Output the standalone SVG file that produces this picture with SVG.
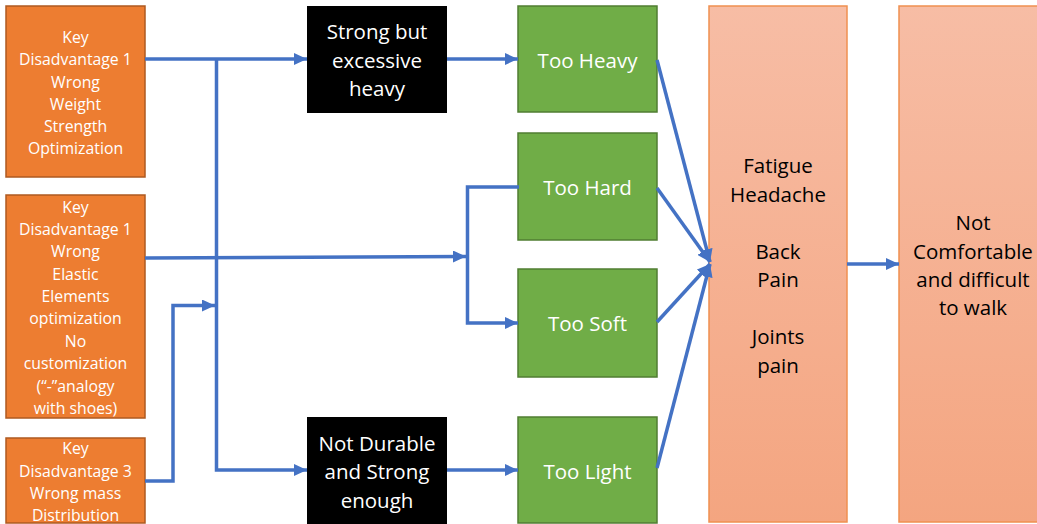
<svg xmlns="http://www.w3.org/2000/svg" width="1037" height="524" viewBox="0 0 1037 524">
<defs>
<linearGradient id="salmon" x1="0" y1="0" x2="0" y2="1">
<stop offset="0" stop-color="#F7BDA5"/>
<stop offset="1" stop-color="#F4A580"/>
</linearGradient>
<marker id="arr" markerUnits="userSpaceOnUse" markerWidth="14" markerHeight="12" refX="13" refY="6" orient="auto">
<path d="M0,0 L13,6 L0,12 z" fill="#4472C4"/>
</marker>
<style>
.orange{fill:#ED7D31;stroke:#AE5A21;stroke-width:1.5}
.black{fill:#000}
.green{fill:#70AD47;stroke:#507E32;stroke-width:1.5}
.salmon{fill:url(#salmon);stroke:#F09050;stroke-width:1.5}
.t{font-family:"Open Sans","Liberation Sans",sans-serif;text-anchor:middle;dominant-baseline:central}
.ts{font-size:15.8px;fill:#fff}
.tb{font-size:20.5px;fill:#fff}
.tk{font-size:20.5px;fill:#000}
.c{fill:none;stroke:#4472C4;stroke-width:3.5}
</style>
</defs>
<g id="kd1">
<rect class="orange" x="6" y="6" width="139" height="171"/>
<text class="t ts" x="75.5"><tspan x="75.5" y="37">Key</tspan><tspan x="75.5" y="59">Disadvantage 1</tspan><tspan x="75.5" y="81.5">Wrong</tspan><tspan x="75.5" y="103.5">Weight</tspan><tspan x="75.5" y="126">Strength</tspan><tspan x="75.5" y="148">Optimization</tspan></text>
</g>
<g id="kd2">
<rect class="orange" x="6" y="195" width="139" height="223"/>
<text class="t ts" x="75.5"><tspan x="75.5" y="207">Key</tspan><tspan x="75.5" y="228.5">Disadvantage 1</tspan><tspan x="75.5" y="251">Wrong</tspan><tspan x="75.5" y="273.5">Elastic</tspan><tspan x="75.5" y="296">Elements</tspan><tspan x="75.5" y="318">optimization</tspan><tspan x="75.5" y="341">No</tspan><tspan x="75.5" y="363">customization</tspan><tspan x="75.5" y="386">(“-”analogy</tspan><tspan x="75.5" y="408">with shoes)</tspan></text>
</g>
<g id="kd3">
<rect class="orange" x="6" y="438" width="139" height="85"/>
<text class="t ts" x="75.5"><tspan x="75.5" y="448">Key</tspan><tspan x="75.5" y="470.5">Disadvantage 3</tspan><tspan x="75.5" y="493">Wrong mass</tspan><tspan x="75.5" y="515">Distribution</tspan></text>
</g>
<g id="strong">
<rect class="black" x="307" y="6" width="140" height="107"/>
<text class="t tb"><tspan x="377" y="31">Strong but</tspan><tspan x="377" y="60">excessive</tspan><tspan x="377" y="88">heavy</tspan></text>
</g>
<g id="notdurable">
<rect class="black" x="307" y="417" width="140" height="107"/>
<text class="t tb"><tspan x="377" y="443">Not Durable</tspan><tspan x="377" y="471">and Strong</tspan><tspan x="377" y="500">enough</tspan></text>
</g>
<g id="heavy">
<rect class="green" x="518" y="6" width="139" height="106"/>
<text class="t tb" x="587.5" y="60">Too Heavy</text>
</g>
<g id="hard">
<rect class="green" x="518" y="133" width="139" height="107"/>
<text class="t tb" x="587.5" y="187">Too Hard</text>
</g>
<g id="soft">
<rect class="green" x="518" y="269" width="139" height="108"/>
<text class="t tb" x="587.5" y="323">Too Soft</text>
</g>
<g id="light">
<rect class="green" x="518" y="417" width="139" height="106"/>
<text class="t tb" x="587.5" y="471">Too Light</text>
</g>
<g id="symptoms">
<rect class="salmon" x="709" y="6" width="138" height="516"/>
<text class="t tk"><tspan x="778" y="165">Fatigue</tspan><tspan x="778" y="193.5">Headache</tspan><tspan x="778" y="250.5">Back</tspan><tspan x="778" y="279">Pain</tspan><tspan x="778" y="336">Joints</tspan><tspan x="778" y="364.5">pain</tspan></text>
</g>
<g id="result">
<rect class="salmon" x="899" y="6" width="145" height="516"/>
<text class="t tk"><tspan x="973" y="222">Not</tspan><tspan x="973" y="250.5">Comfortable</tspan><tspan x="973" y="279">and difficult</tspan><tspan x="973" y="307">to walk</tspan></text>
</g>
<g id="connectors">
<path class="c" d="M145,59 H307" marker-end="url(#arr)"/>
<path class="c" d="M216.5,59 V470 H307" marker-end="url(#arr)"/>
<path class="c" d="M145,258 L466,256.5" marker-end="url(#arr)"/>
<path class="c" d="M519,187 H467.5 V323 H518" marker-end="url(#arr)"/>
<path class="c" d="M145,481 H173 V305.5 H215" marker-end="url(#arr)"/>
<path class="c" d="M447,59 H518" marker-end="url(#arr)"/>
<path class="c" d="M447,470 H518" marker-end="url(#arr)"/>
<path class="c" d="M657,60 L710,262" marker-end="url(#arr)"/>
<path class="c" d="M657,188 L710,262" marker-end="url(#arr)"/>
<path class="c" d="M657,322 L710,264" marker-end="url(#arr)"/>
<path class="c" d="M657,468 L710,264" marker-end="url(#arr)"/>
<path class="c" d="M847,264 H899" marker-end="url(#arr)"/>
</g>
</svg>
